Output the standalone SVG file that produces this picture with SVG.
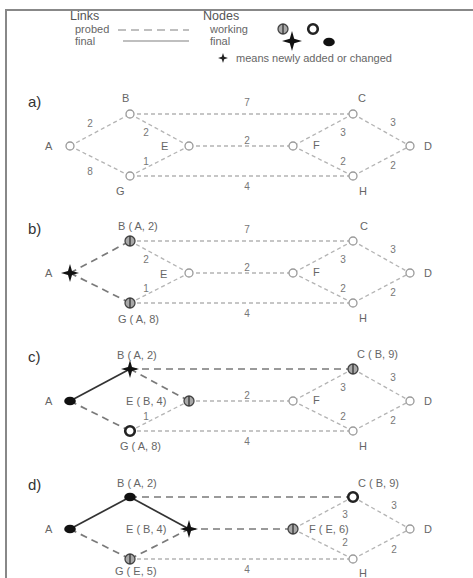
<svg xmlns="http://www.w3.org/2000/svg" xmlns:xlink="http://www.w3.org/1999/xlink" width="473" height="578" viewBox="0 0 473 578">
<style>
text{font-family:"Liberation Sans",Arial,sans-serif}
.hd{font-size:12.5px;fill:#555}
.lg{font-size:11px;fill:#666}
.pl{font-size:15px;fill:#333}
.t{font-size:11px;fill:#666}
.w{font-size:10px;fill:#777;text-anchor:middle}
.e{stroke:#b4b4b4;stroke-width:1.3;stroke-dasharray:4 3;fill:none}
.ed{stroke:#7a7a7a;stroke-width:1.7;stroke-dasharray:7 5;fill:none}
.ef{stroke:#333;stroke-width:1.7;fill:none}
.frame{stroke:#888;stroke-width:2;fill:none}
</style>
<defs>
<g id="nOpen"><circle r="4" fill="#fff" stroke="#9a9a9a" stroke-width="1.3"/></g>
<g id="nWork"><circle r="5" fill="#a8a8a8" stroke="#444" stroke-width="1.3"/><line x1="0" y1="-5" x2="0" y2="5" stroke="#333" stroke-width="1.3"/></g>
<g id="nBold"><circle r="4.8" fill="#fff" stroke="#222" stroke-width="2.6"/></g>
<g id="nFin"><ellipse rx="5.8" ry="4.3" fill="#111"/></g>
<g id="nStar"><path d="M0,-9 L2,-2 L9,0 L2,2 L0,9 L-2,2 L-9,0 L-2,-2 Z" fill="#111"/></g>
</defs>

<path class="frame" d="M6,578 L6,10 L473,10"/>

<g id="legend">
<text class="hd" x="70" y="20">Links</text>
<text class="hd" x="203" y="20">Nodes</text>
<text class="lg" x="75" y="33">probed</text>
<text class="lg" x="75" y="45">final</text>
<line x1="118" y1="30" x2="189" y2="30" stroke="#aaa" stroke-width="1.5" stroke-dasharray="8 5"/>
<line x1="123" y1="41" x2="189" y2="41" stroke="#aaa" stroke-width="1.5"/>
<text class="lg" x="210" y="33">working</text>
<text class="lg" x="210" y="45">final</text>
<use xlink:href="#nWork" x="283" y="29"/>
<use xlink:href="#nBold" x="313" y="29"/>
<path d="M292,31 L294.2,38.8 L302,41 L294.2,43.2 L292,51 L289.8,43.2 L282,41 L289.8,38.8 Z" fill="#111"/>
<use xlink:href="#nFin" x="329" y="42"/>
<path d="M223,53 L224.2,56.8 L228,58 L224.2,59.2 L223,63 L221.8,59.2 L218,58 L221.8,56.8 Z" fill="#222"/>
<text class="lg" x="236" y="62">means newly added or changed</text>
</g>

<!-- Panel a -->
<g id="panel-a">
<text class="pl" x="28" y="107">a)</text>
<g id="a-connectors">
<line class="e" x1="70" y1="146" x2="130" y2="114"/>
<line class="e" x1="70" y1="146" x2="130" y2="176"/>
<line class="e" x1="130" y1="114" x2="353" y2="114"/>
<line class="e" x1="130" y1="114" x2="189" y2="146"/>
<line class="e" x1="130" y1="176" x2="189" y2="146"/>
<line class="e" x1="189" y1="146" x2="293" y2="146"/>
<line class="e" x1="130" y1="176" x2="353" y2="176"/>
<line class="e" x1="353" y1="114" x2="293" y2="146"/>
<line class="e" x1="293" y1="146" x2="353" y2="176"/>
<line class="e" x1="353" y1="114" x2="410" y2="146"/>
<line class="e" x1="353" y1="176" x2="410" y2="146"/>
<text class="w" x="90" y="127">2</text>
<text class="w" x="90" y="175">8</text>
<text class="w" x="247" y="106">7</text>
<text class="w" x="146" y="136">2</text>
<text class="w" x="146" y="165">1</text>
<text class="w" x="247" y="144">2</text>
<text class="w" x="247" y="190">4</text>
<text class="w" x="343" y="136">3</text>
<text class="w" x="343" y="165">2</text>
<text class="w" x="393" y="126">3</text>
<text class="w" x="393" y="169">2</text>
</g>
<g id="a-A"><use xlink:href="#nOpen" x="70" y="146"/><text class="t" x="45" y="150">A</text></g>
<g id="a-B"><use xlink:href="#nOpen" x="130" y="114"/><text class="t" x="122" y="102">B</text></g>
<g id="a-C"><use xlink:href="#nOpen" x="353" y="114"/><text class="t" x="358" y="102">C</text></g>
<g id="a-D"><use xlink:href="#nOpen" x="410" y="146"/><text class="t" x="424" y="150">D</text></g>
<g id="a-E"><use xlink:href="#nOpen" x="189" y="146"/><text class="t" x="161" y="150">E</text></g>
<g id="a-F"><use xlink:href="#nOpen" x="293" y="146"/><text class="t" x="313" y="149">F</text></g>
<g id="a-G"><use xlink:href="#nOpen" x="130" y="176"/><text class="t" x="116" y="195">G</text></g>
<g id="a-H"><use xlink:href="#nOpen" x="353" y="176"/><text class="t" x="359" y="195">H</text></g>
</g>

<!-- Panel b -->
<g id="panel-b" transform="translate(0,127)">
<text class="pl" x="28" y="107">b)</text>
<g id="b-connectors">
<line class="ed" x1="70" y1="146" x2="130" y2="114"/>
<line class="ed" x1="70" y1="146" x2="130" y2="176"/>
<line class="e" x1="130" y1="114" x2="353" y2="114"/>
<line class="e" x1="130" y1="114" x2="189" y2="146"/>
<line class="e" x1="130" y1="176" x2="189" y2="146"/>
<line class="e" x1="189" y1="146" x2="293" y2="146"/>
<line class="e" x1="130" y1="176" x2="353" y2="176"/>
<line class="e" x1="353" y1="114" x2="293" y2="146"/>
<line class="e" x1="293" y1="146" x2="353" y2="176"/>
<line class="e" x1="353" y1="114" x2="410" y2="146"/>
<line class="e" x1="353" y1="176" x2="410" y2="146"/>
<text class="w" x="247" y="106">7</text>
<text class="w" x="146" y="136">2</text>
<text class="w" x="146" y="165">1</text>
<text class="w" x="247" y="144">2</text>
<text class="w" x="247" y="190">4</text>
<text class="w" x="343" y="136">3</text>
<text class="w" x="343" y="165">2</text>
<text class="w" x="393" y="126">3</text>
<text class="w" x="393" y="169">2</text>
</g>
<g id="b-A"><use xlink:href="#nStar" x="70" y="146"/><text class="t" x="45" y="150">A</text></g>
<g id="b-B"><use xlink:href="#nWork" x="130" y="114"/><text class="t" x="118" y="103">B ( A, 2)</text></g>
<g id="b-C"><use xlink:href="#nOpen" x="353" y="114"/><text class="t" x="360" y="103">C</text></g>
<g id="b-D"><use xlink:href="#nOpen" x="410" y="146"/><text class="t" x="424" y="150">D</text></g>
<g id="b-E"><use xlink:href="#nOpen" x="189" y="146"/><text class="t" x="160" y="151">E</text></g>
<g id="b-F"><use xlink:href="#nOpen" x="293" y="146"/><text class="t" x="313" y="149">F</text></g>
<g id="b-G"><use xlink:href="#nWork" x="130" y="176"/><text class="t" x="118" y="196">G ( A, 8)</text></g>
<g id="b-H"><use xlink:href="#nOpen" x="353" y="176"/><text class="t" x="359" y="195">H</text></g>
</g>

<!-- Panel c -->
<g id="panel-c" transform="translate(0,255)">
<text class="pl" x="28" y="107">c)</text>
<g id="c-connectors">
<line class="ef" x1="70" y1="146" x2="130" y2="114"/>
<line class="ed" x1="70" y1="146" x2="130" y2="176"/>
<line class="ed" x1="130" y1="114" x2="353" y2="114"/>
<line class="ed" x1="130" y1="114" x2="189" y2="146"/>
<line class="e" x1="130" y1="176" x2="189" y2="146"/>
<line class="e" x1="189" y1="146" x2="293" y2="146"/>
<line class="e" x1="130" y1="176" x2="353" y2="176"/>
<line class="e" x1="353" y1="114" x2="293" y2="146"/>
<line class="e" x1="293" y1="146" x2="353" y2="176"/>
<line class="e" x1="353" y1="114" x2="410" y2="146"/>
<line class="e" x1="353" y1="176" x2="410" y2="146"/>
<text class="w" x="146" y="165">1</text>
<text class="w" x="247" y="144">2</text>
<text class="w" x="247" y="190">4</text>
<text class="w" x="343" y="136">3</text>
<text class="w" x="343" y="165">2</text>
<text class="w" x="393" y="126">3</text>
<text class="w" x="393" y="169">2</text>
</g>
<g id="c-A"><use xlink:href="#nFin" x="70" y="146"/><text class="t" x="45" y="150">A</text></g>
<g id="c-B"><use xlink:href="#nStar" x="130" y="114"/><text class="t" x="117" y="104">B ( A, 2)</text></g>
<g id="c-C"><use xlink:href="#nWork" x="353" y="114"/><text class="t" x="357" y="103">C ( B, 9)</text></g>
<g id="c-D"><use xlink:href="#nOpen" x="410" y="146"/><text class="t" x="424" y="150">D</text></g>
<g id="c-E"><use xlink:href="#nWork" x="189" y="146"/><text class="t" x="126" y="150">E ( B, 4)</text></g>
<g id="c-F"><use xlink:href="#nOpen" x="293" y="146"/><text class="t" x="313" y="149">F</text></g>
<g id="c-G"><use xlink:href="#nBold" x="130" y="176"/><text class="t" x="120" y="195">G ( A, 8)</text></g>
<g id="c-H"><use xlink:href="#nOpen" x="353" y="176"/><text class="t" x="359" y="195">H</text></g>
</g>

<!-- Panel d -->
<g id="panel-d" transform="translate(0,383)">
<text class="pl" x="28" y="107">d)</text>
<g id="d-connectors">
<line class="ef" x1="70" y1="146" x2="130" y2="114"/>
<line class="ef" x1="130" y1="114" x2="189" y2="146"/>
<line class="ed" x1="70" y1="146" x2="130" y2="176"/>
<line class="ed" x1="130" y1="114" x2="353" y2="114"/>
<line class="ed" x1="130" y1="176" x2="189" y2="146"/>
<line class="ed" x1="189" y1="146" x2="293" y2="146"/>
<line class="e" x1="130" y1="176" x2="353" y2="176"/>
<line class="e" x1="353" y1="114" x2="293" y2="146"/>
<line class="e" x1="293" y1="146" x2="353" y2="176"/>
<line class="e" x1="353" y1="114" x2="410" y2="146"/>
<line class="e" x1="353" y1="176" x2="410" y2="146"/>
<text class="w" x="247" y="190">4</text>
<text class="w" x="345" y="135">3</text>
<text class="w" x="345" y="163">2</text>
<text class="w" x="394" y="126">3</text>
<text class="w" x="394" y="170">2</text>
</g>
<g id="d-A"><use xlink:href="#nFin" x="70" y="146"/><text class="t" x="45" y="150">A</text></g>
<g id="d-B"><use xlink:href="#nFin" x="130" y="114"/><text class="t" x="117" y="104">B ( A, 2)</text></g>
<g id="d-C"><use xlink:href="#nBold" x="353" y="114"/><text class="t" x="358" y="104">C ( B, 9)</text></g>
<g id="d-D"><use xlink:href="#nOpen" x="410" y="146"/><text class="t" x="424" y="150">D</text></g>
<g id="d-E"><use xlink:href="#nStar" x="189" y="146"/><text class="t" x="126" y="150">E ( B, 4)</text></g>
<g id="d-F"><use xlink:href="#nWork" x="293" y="146"/><text class="t" x="309" y="150">F ( E, 6)</text></g>
<g id="d-G"><use xlink:href="#nWork" x="130" y="176"/><text class="t" x="115" y="192">G ( E, 5)</text></g>
<g id="d-H"><use xlink:href="#nOpen" x="353" y="176"/><text class="t" x="359" y="194">H</text></g>
</g>
</svg>
